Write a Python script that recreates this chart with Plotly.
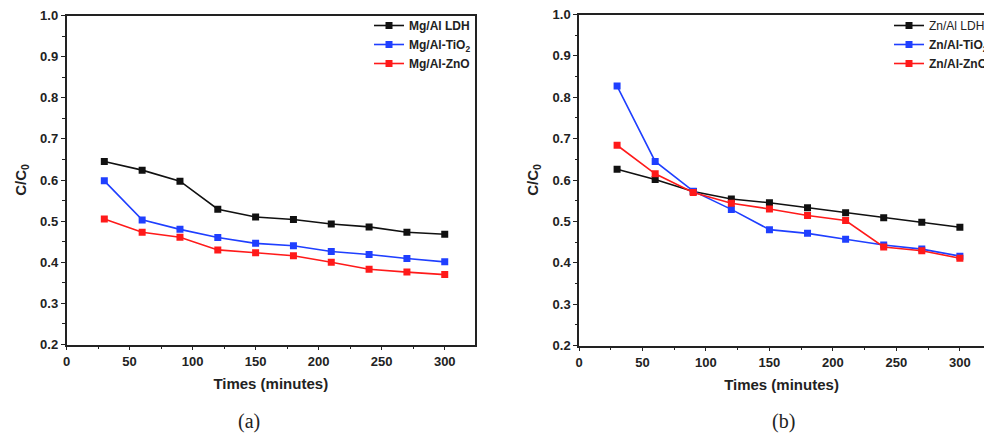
import plotly.graph_objects as go

times = [30, 60, 90, 120, 150, 180, 210, 240, 270, 300]

# Panel (a)
mg_ldh = [0.645, 0.624, 0.597, 0.529, 0.510, 0.504, 0.493, 0.486, 0.473, 0.468]
mg_tio2 = [0.598, 0.503, 0.480, 0.460, 0.446, 0.440, 0.426, 0.419, 0.409, 0.401]
mg_zno = [0.505, 0.473, 0.461, 0.430, 0.423, 0.416, 0.400, 0.383, 0.376, 0.370]

# Panel (b)
zn_ldh = [0.626, 0.601, 0.572, 0.554, 0.545, 0.533, 0.521, 0.509, 0.498, 0.486]
zn_tio2 = [0.827, 0.645, 0.573, 0.529, 0.480, 0.471, 0.457, 0.443, 0.433, 0.416]
zn_zno = [0.684, 0.615, 0.570, 0.544, 0.530, 0.514, 0.502, 0.438, 0.429, 0.411]

names_a = ["<b>Mg/Al LDH</b>", "<b>Mg/Al-TiO<sub>2</sub></b>", "<b>Mg/Al-ZnO</b>"]
names_b = ["Zn/Al LDH", "<b>Zn/Al-TiO<sub>2</sub></b>", "<b>Zn/Al-ZnO</b>"]
colors = ["#111111", "#1f3fff", "#ff1a1a"]

x_ticks = [0, 50, 100, 150, 200, 250, 300]
x_minor = [25, 75, 125, 175, 225, 275]
y_ticks = [0.2, 0.3, 0.4, 0.5, 0.6, 0.7, 0.8, 0.9, 1.0]
y_minor = [0.25, 0.35, 0.45, 0.55, 0.65, 0.75, 0.85, 0.95]

W, H = 984, 438
FONT = "Arial, 'Liberation Sans', sans-serif"
fig = go.Figure()

for ys, nm, c in zip([mg_ldh, mg_tio2, mg_zno], names_a, colors):
    fig.add_trace(go.Scatter(x=times, y=ys, name=nm, mode="lines+markers",
                             line=dict(color=c, width=1.6),
                             marker=dict(symbol="square", size=7, color=c),
                             xaxis="x", yaxis="y", legend="legend"))
for ys, nm, c in zip([zn_ldh, zn_tio2, zn_zno], names_b, colors):
    fig.add_trace(go.Scatter(x=times, y=ys, name=nm, mode="lines+markers",
                             line=dict(color=c, width=1.6),
                             marker=dict(symbol="square", size=7, color=c),
                             xaxis="x2", yaxis="y2", legend="legend2"))

def px_x(p):
    return p / W

def px_y(p):
    return 1 - p / H

axis_common = dict(showgrid=False, zeroline=False, showline=True, linecolor="#222",
                   linewidth=1.5, ticks="outside", ticklen=4, tickwidth=1.3,
                   tickcolor="#222",
                   tickfont=dict(family=FONT, size=13, color="#222"))

xa = dict(axis_common, tickmode="array", tickvals=x_ticks,
          ticktext=["<b>%d</b>" % v for v in x_ticks],
          minor=dict(ticks="outside", ticklen=2.5, tickwidth=1.2, tickcolor="#222",
                     tickvals=x_minor),
          title=dict(text="<b>Times (minutes)</b>", standoff=11,
                     font=dict(family=FONT, size=15, color="#222")))
ya = dict(axis_common, range=[0.2, 1.0], tickmode="array",
          tickvals=y_ticks,
          ticktext=["<b>%.1f</b>" % v for v in y_ticks],
          minor=dict(ticks="outside", ticklen=2.5, tickwidth=1.2, tickcolor="#222",
                     tickvals=y_minor),
          title=dict(text="<b>C/C<sub>0</sub></b>", standoff=10,
                     font=dict(family=FONT, size=15, color="#222")))

fig.update_layout(
    width=W, height=H,
    margin=dict(l=0, r=0, t=0, b=0, autoexpand=False),
    paper_bgcolor="white", plot_bgcolor="white",
    xaxis=dict(xa, domain=[px_x(66.5), px_x(475)], range=[0, 324], mirror=True, anchor="y"),
    yaxis=dict(ya, domain=[px_y(344.5), px_y(15.5)], mirror=True, anchor="x"),
    xaxis2=dict(xa, domain=[px_x(579), 1.0], range=[0, 319], mirror=True, anchor="y2"),
    yaxis2=dict(ya, domain=[px_y(345.5), px_y(14.5)], mirror=False, anchor="x2"),
    legend=dict(x=px_x(369), y=px_y(11), xanchor="left", yanchor="top",
                bgcolor="rgba(0,0,0,0)", tracegroupgap=0, itemwidth=30,
                font=dict(family=FONT, size=12, color="#222")),
    legend2=dict(x=px_x(889), y=px_y(11), xanchor="left", yanchor="top",
                 bgcolor="rgba(0,0,0,0)", tracegroupgap=0, itemwidth=30,
                 font=dict(family=FONT, size=12, color="#222")),
    showlegend=True,
)

for txt, xc in [("(a)", 249), ("(b)", 783)]:
    fig.add_annotation(text=txt, x=px_x(xc), y=px_y(421), xref="paper", yref="paper",
                       showarrow=False, xanchor="center", yanchor="middle",
                       font=dict(family="'Times New Roman', 'Liberation Serif', serif", size=20,
                                 color="#222"))

fig.write_html("out.html", config={"displayModeBar": False},
               post_script="document.body.style.margin='0';document.body.style.overflow='hidden';")
